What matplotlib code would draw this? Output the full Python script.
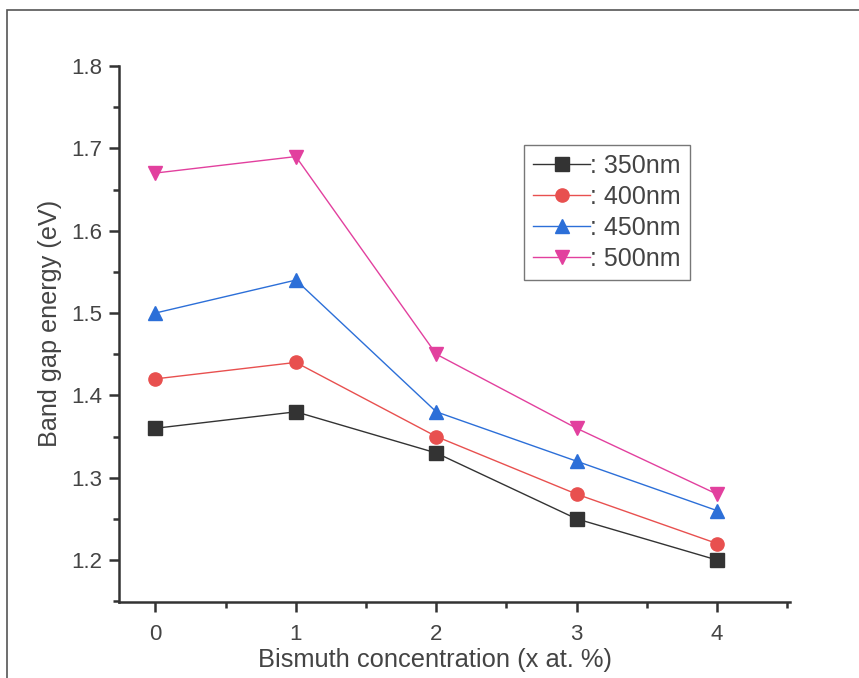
import matplotlib
matplotlib.use("Agg")
import matplotlib.pyplot as plt
from matplotlib.patches import Rectangle
from matplotlib.ticker import MultipleLocator

# dati
x_bi = [0, 1, 2, 3, 4]
e_350 = [1.36, 1.38, 1.33, 1.25, 1.20]
e_400 = [1.42, 1.44, 1.35, 1.28, 1.22]
e_450 = [1.50, 1.54, 1.38, 1.32, 1.26]
e_500 = [1.67, 1.69, 1.45, 1.36, 1.28]
etichette = [": 350nm", ": 400nm", ": 450nm", ": 500nm"]

plt.rcParams["font.family"] = ["Liberation Sans", "DejaVu Sans"]

fig = plt.figure(figsize=(8.59, 6.78), dpi=100)
# cornice esterna della scansione
fig.patches.append(Rectangle((7 / 859, -0.2), 1.2, 1.2 - 10 / 678,
                             transform=fig.transFigure, fill=False,
                             edgecolor="#555555", linewidth=1.2))
ax = fig.add_axes([119 / 859, 1 - 602 / 678, (790 - 119) / 859, (602 - 66) / 678])

stili = [("#333333", "s"), ("#e8504f", "o"), ("#2c6fd8", "^"), ("#e2409e", "v")]
for serie, (col, mk), lab in zip([e_350, e_400, e_450, e_500], stili, etichette):
    ax.plot(x_bi, serie, color=col, marker=mk, markersize=9.5, linewidth=1.0, label=lab)

ax.set_xlim(-0.26, 4.52)
ax.set_ylim(1.149, 1.8)
ax.xaxis.set_major_locator(MultipleLocator(1))
ax.xaxis.set_minor_locator(MultipleLocator(0.5))
ax.yaxis.set_major_locator(MultipleLocator(0.1))
ax.yaxis.set_minor_locator(MultipleLocator(0.05))
ax.spines["top"].set_visible(False)
ax.spines["right"].set_visible(False)
for s in ("left", "bottom"):
    ax.spines[s].set_linewidth(1.8)
    ax.spines[s].set_color("#333333")
ax.tick_params(which="major", direction="out", length=7, width=1.8, colors="#333333",
               labelsize=16, labelcolor="#444444", pad=5)
ax.tick_params(axis="x", which="major", pad=9)
ax.tick_params(which="minor", direction="out", length=4, width=1.8, colors="#333333")
ax.set_xlabel("Bismuth concentration (x at. %)", fontsize=18.4, color="#444444",
              labelpad=2, x=0.471)
ax.set_ylabel("Band gap energy (eV)", fontsize=18.2, color="#444444", labelpad=7, y=0.519)

leg = ax.legend(loc="upper left", bbox_to_anchor=(0.6036, 0.8526), fontsize=18,
                frameon=True, fancybox=False, edgecolor="#555555", handlelength=2.3,
                handletextpad=0.0, borderpad=0.35, labelspacing=0.28, borderaxespad=0)
leg.get_frame().set_linewidth(1.0)
for t in leg.get_texts():
    t.set_color("#444444")

fig.savefig("out.png", dpi=100)
